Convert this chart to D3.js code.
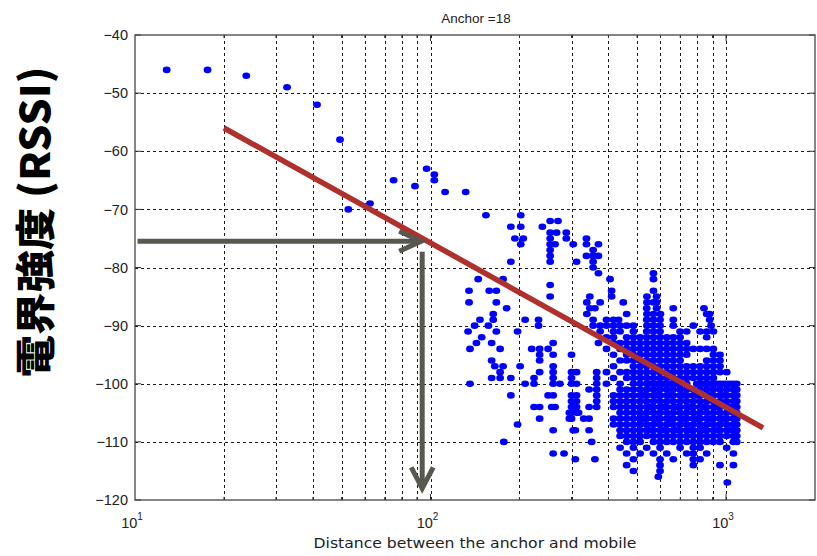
<!DOCTYPE html>
<html><head><meta charset="utf-8">
<script src="https://cdn.jsdelivr.net/npm/d3@7"></script>
<style>body{margin:0;background:#fff}</style>
</head><body>
<svg id="c" width="817" height="556" xmlns="http://www.w3.org/2000/svg"></svg>
<script>
// ---------- data ----------
const titleText = "Anchor =18";
const xLabelText = "Distance between the anchor and mobile";
const yLabelBig = "電界強度 (RSSI)";
const yLabelSmall = "RSSI(dBm)";
const xDomain = [10, 2000];
const yDomain = [-120, -40];
const xMajorTicks = [10, 100, 1000];
const xTickExponents = ["1", "2", "3"];
const xGridValues = [20, 30, 40, 50, 60, 70, 80, 90, 100, 200, 300, 400, 500, 600, 700, 800, 900, 1000];
const yTicks = [-120, -110, -100, -90, -80, -70, -60, -50, -40];
const fitDist = [20, 1334];
const fitRSSI = [-56, -107.6];
const arrowStartDist = 10.2;
const arrowDist = 93;
const arrowRSSI = -75.5;
const arrowDownStart = -77.3;
const arrowDownEnd = -118;
// measured points: [RSSI, [distances...]]
const scatterRows = [
  [-46, [12.8, 17.6]],
  [-47, [23.8]],
  [-49, [32.7]],
  [-52, [41.3]],
  [-58, [49.4]],
  [-63, [97]],
  [-64, [103]],
  [-65, [75, 103]],
  [-66, [88.6]],
  [-67, [112, 131.5]],
  [-69, [62.4]],
  [-70, [52.7]],
  [-71, [154, 202]],
  [-72, [254, 270]],
  [-73, [187, 202, 239]],
  [-74, [254, 267, 288]],
  [-75, [193, 206, 254, 288, 337]],
  [-76, [202, 254, 264, 304, 337, 370]],
  [-77, [254, 355]],
  [-78, [254, 337, 355, 370]],
  [-79, [187, 254, 312, 355]],
  [-80, [355]],
  [-81, [370, 568]],
  [-82, [145, 176, 405, 568]],
  [-83, [254]],
  [-84, [135, 158, 167, 410, 568]],
  [-85, [254, 346, 410, 540, 582]],
  [-86, [135, 167, 338, 375, 449, 540, 568, 582]],
  [-87, [181, 346, 360, 539, 582, 663, 842]],
  [-88, [163, 338, 461, 540, 568, 600, 860, 880]],
  [-89, [147, 163, 209, 232, 355, 394, 416, 433, 539, 568, 598, 663, 880]],
  [-90, [141, 157, 232, 355, 375, 394, 416, 438, 461, 486, 540, 568, 598, 663, 775, 890]],
  [-91, [134, 167, 197, 375, 416, 438, 486, 539, 568, 598, 699, 736, 817, 860, 906]],
  [-92, [149, 394, 416, 461, 486, 512, 539, 568, 598, 630, 663, 699, 860]],
  [-93, [143, 161, 260, 370, 416, 438, 461, 486, 512, 539, 568, 598, 630, 663, 699, 736]],
  [-94, [136, 172, 220, 234, 250, 394, 438, 461, 486, 512, 539, 568, 598, 630, 663, 699, 736, 775, 817, 860, 906]],
  [-95, [234, 260, 300, 416, 461, 486, 512, 539, 568, 598, 630, 663, 699, 736, 906, 954]],
  [-96, [161, 234, 438, 461, 486, 512, 539, 568, 598, 630, 663, 699, 860, 906, 954]],
  [-97, [165, 176, 201, 260, 416, 486, 512, 539, 568, 598, 630, 663, 699, 736, 775, 817, 860, 906, 954]],
  [-98, [172, 234, 260, 300, 312, 365, 394, 438, 461, 486, 512, 539, 568, 598, 630, 663, 699, 736, 775, 817, 860, 906, 954, 1005]],
  [-99, [161, 172, 187, 224, 260, 300, 365, 416, 461, 486, 512, 539, 568, 598, 630, 663, 699, 736, 775, 817, 860, 906]],
  [-100, [136, 209, 224, 260, 274, 300, 312, 365, 394, 438, 486, 512, 539, 550, 568, 583, 598, 614, 630, 646, 663, 681, 699, 717, 736, 796, 817, 838, 860, 883, 906, 930, 954, 980, 1005, 1032, 1059, 1087]],
  [-101, [344, 365, 438, 461, 486, 512, 539, 568, 598, 630, 663, 699, 736, 775, 817, 860, 906, 954, 1005, 1059, 1087]],
  [-102, [187, 250, 260, 300, 312, 365, 416, 438, 461, 486, 512, 525, 539, 568, 583, 598, 630, 646, 663, 699, 717, 736, 775, 796, 817, 860, 883, 906, 954, 980, 1005, 1059, 1087]],
  [-103, [300, 312, 365, 416, 438, 461, 486, 512, 539, 568, 598, 630, 663, 699, 736, 775, 817, 860, 906, 954, 1005, 1059, 1087]],
  [-104, [224, 234, 257, 264, 300, 312, 344, 365, 416, 438, 461, 486, 512, 539, 550, 568, 598, 614, 630, 663, 681, 699, 736, 755, 775, 817, 838, 860, 906, 930, 954, 1005, 1032, 1059, 1087]],
  [-105, [295, 300, 312, 317, 438, 461, 486, 512, 539, 568, 598, 630, 663, 699, 736, 775, 817, 860, 906, 954, 1005, 1059, 1087]],
  [-106, [234, 295, 300, 330, 344, 416, 438, 461, 486, 512, 525, 539, 568, 583, 598, 630, 646, 663, 699, 717, 736, 775, 796, 817, 860, 883, 906, 954, 980, 1005, 1059, 1087]],
  [-107, [197, 416, 438, 461, 486, 512, 539, 568, 598, 630, 663, 699, 736, 775, 817, 860, 906, 954, 1005, 1059, 1087]],
  [-108, [260, 304, 309, 344, 438, 461, 486, 512, 539, 550, 568, 598, 614, 630, 663, 681, 699, 736, 755, 775, 817, 838, 860, 906, 930, 954, 1005, 1032, 1059, 1087]],
  [-109, [438, 461, 486, 512, 539, 568, 598, 630, 663, 699, 736, 775, 817, 860, 906, 954, 1005, 1059, 1087]],
  [-110, [177, 351, 461, 486, 512, 568, 598, 630, 663, 699, 736, 775, 817, 860, 906, 954, 1059, 1087]],
  [-111, [438, 486, 539, 598, 699, 775, 817, 1005]],
  [-112, [260, 283, 461, 512, 568, 630, 736, 775, 860, 1059]],
  [-113, [309, 360, 486, 598, 663, 775, 817]],
  [-114, [461, 598, 775, 954, 1059]],
  [-115, [486, 598]],
  [-116, [590]],
  [-117, [1010]]
];

// ---------- drawing ----------
const L = 135, R = 815, T = 35, B = 500;
const svg = d3.select("#c");
const x = d3.scaleLog().domain(xDomain).range([L, R]);
const y = d3.scaleLinear().domain(yDomain).range([B, T]);

svg.append("rect").attr("width", 817).attr("height", 556).attr("fill", "#fff");

// grid
const grid = svg.append("g").attr("stroke", "#1a1a1a").attr("stroke-width", 1)
  .attr("stroke-dasharray", "3,3");
grid.selectAll("line.vx").data(xGridValues).join("line")
  .attr("x1", d => Math.round(x(d)) + 0.5).attr("x2", d => Math.round(x(d)) + 0.5)
  .attr("y1", T).attr("y2", B);
grid.selectAll("line.hy").data(yTicks.slice(1, -1)).join("line")
  .attr("y1", d => Math.round(y(d)) + 0.5).attr("y2", d => Math.round(y(d)) + 0.5)
  .attr("x1", L).attr("x2", R);

// scatter
const pts = [];
scatterRows.forEach(([r, ds]) => ds.forEach(d => pts.push([d, r])));
svg.append("g").attr("fill", "#0000ff").selectAll("ellipse").data(pts).join("ellipse")
  .attr("cx", d => x(d[0])).attr("cy", d => y(d[1]))
  .attr("rx", 3.9).attr("ry", 3.3);

// fit line
svg.append("line")
  .attr("x1", x(fitDist[0])).attr("y1", y(fitRSSI[0]))
  .attr("x2", x(fitDist[1])).attr("y2", y(fitRSSI[1]))
  .attr("stroke", "#b0302e").attr("stroke-width", 5.5);

// arrows
const ac = "#58584f";
const ag = svg.append("g").attr("stroke", ac).attr("stroke-width", 5).attr("fill", "none")
  .attr("stroke-linecap", "butt");
const hx1 = x(arrowStartDist), hx2 = x(arrowDist), hy = y(arrowRSSI);
ag.append("line").attr("x1", hx1).attr("y1", hy).attr("x2", hx2 - 2).attr("y2", hy);
ag.append("path").attr("d", `M${hx2 - 22},${hy - 10}L${hx2},${hy}L${hx2 - 22},${hy + 10}`)
  .attr("stroke-linejoin", "miter");
const vx = x(arrowDist) + 1, vy1 = y(arrowDownStart), vy2 = y(arrowDownEnd);
ag.append("line").attr("x1", vx).attr("y1", vy1).attr("x2", vx).attr("y2", vy2 - 2);
ag.append("path").attr("d", `M${vx - 11},${vy2 - 21}L${vx},${vy2}L${vx + 11},${vy2 - 21}`)
  .attr("stroke-linejoin", "miter");

// ticks (inside)
const tk = svg.append("g").attr("stroke", "#333").attr("stroke-width", 1);
yTicks.forEach(v => {
  tk.append("line").attr("x1", L).attr("x2", L + 6).attr("y1", y(v)).attr("y2", y(v));
  tk.append("line").attr("x1", R).attr("x2", R - 6).attr("y1", y(v)).attr("y2", y(v));
});
xGridValues.forEach(v => {
  const len = xMajorTicks.includes(v) ? 6 : 3;
  tk.append("line").attr("x1", x(v)).attr("x2", x(v)).attr("y1", B).attr("y2", B - len);
  tk.append("line").attr("x1", x(v)).attr("x2", x(v)).attr("y1", T).attr("y2", T + len);
});

// border
svg.append("rect").attr("x", L).attr("y", T).attr("width", R - L).attr("height", B - T)
  .attr("fill", "none").attr("stroke", "#444").attr("stroke-width", 1.3);

// y tick labels
svg.append("g").selectAll("text").data(yTicks).join("text")
  .attr("x", L - 7).attr("y", d => y(d)).attr("dy", "0.36em")
  .attr("text-anchor", "end")
  .attr("font-family", "'Liberation Sans', Arial, sans-serif").attr("font-size", 14.5)
  .attr("fill", "#222")
  .text(d => String(d).replace("-", "\u2212"));

// x tick labels
const xt = svg.append("g").attr("font-family", "'Liberation Sans', Arial, sans-serif").attr("fill", "#222");
xMajorTicks.forEach((v, i) => {
  const t = xt.append("text").attr("x", x(v) - 3).attr("y", 528).attr("text-anchor", "middle")
    .attr("font-size", 14.5);
  t.append("tspan").text("10");
  t.append("tspan").attr("font-size", 10).attr("dy", -8).text(xTickExponents[i]);
});

// title
svg.append("text").attr("x", 476).attr("y", 23).attr("text-anchor", "middle")
  .attr("font-family", "'Liberation Sans', Arial, sans-serif").attr("font-size", 13.5)
  .attr("fill", "#222").text(titleText);

// x label
svg.append("text").attr("x", 475).attr("y", 548).attr("text-anchor", "middle")
  .attr("font-family", "'DejaVu Sans', sans-serif").attr("font-size", 14)
  .attr("textLength", 323).attr("lengthAdjust", "spacingAndGlyphs")
  .attr("fill", "#222").text(xLabelText);

// small (partly hidden) y label
svg.append("clipPath").attr("id", "smallclip").append("rect")
  .attr("x", 71).attr("y", 200).attr("width", 12).attr("height", 150);
svg.append("text").attr("clip-path", "url(#smallclip)")
  .attr("transform", "translate(79,277) rotate(-90)")
  .attr("text-anchor", "middle")
  .attr("font-family", "'Liberation Sans', Arial, sans-serif").attr("font-size", 11)
  .attr("fill", "#333").text(yLabelSmall);

// big y label
svg.append("text")
  .attr("transform", "translate(50,222) rotate(-90)")
  .attr("text-anchor", "middle")
  .attr("font-family", "'Noto Sans CJK JP', sans-serif").attr("font-weight", 900)
  .attr("font-size", 40).attr("fill", "#000")
  .attr("textLength", 311).attr("lengthAdjust", "spacingAndGlyphs")
  .text(yLabelBig);
</script>
</body></html>
